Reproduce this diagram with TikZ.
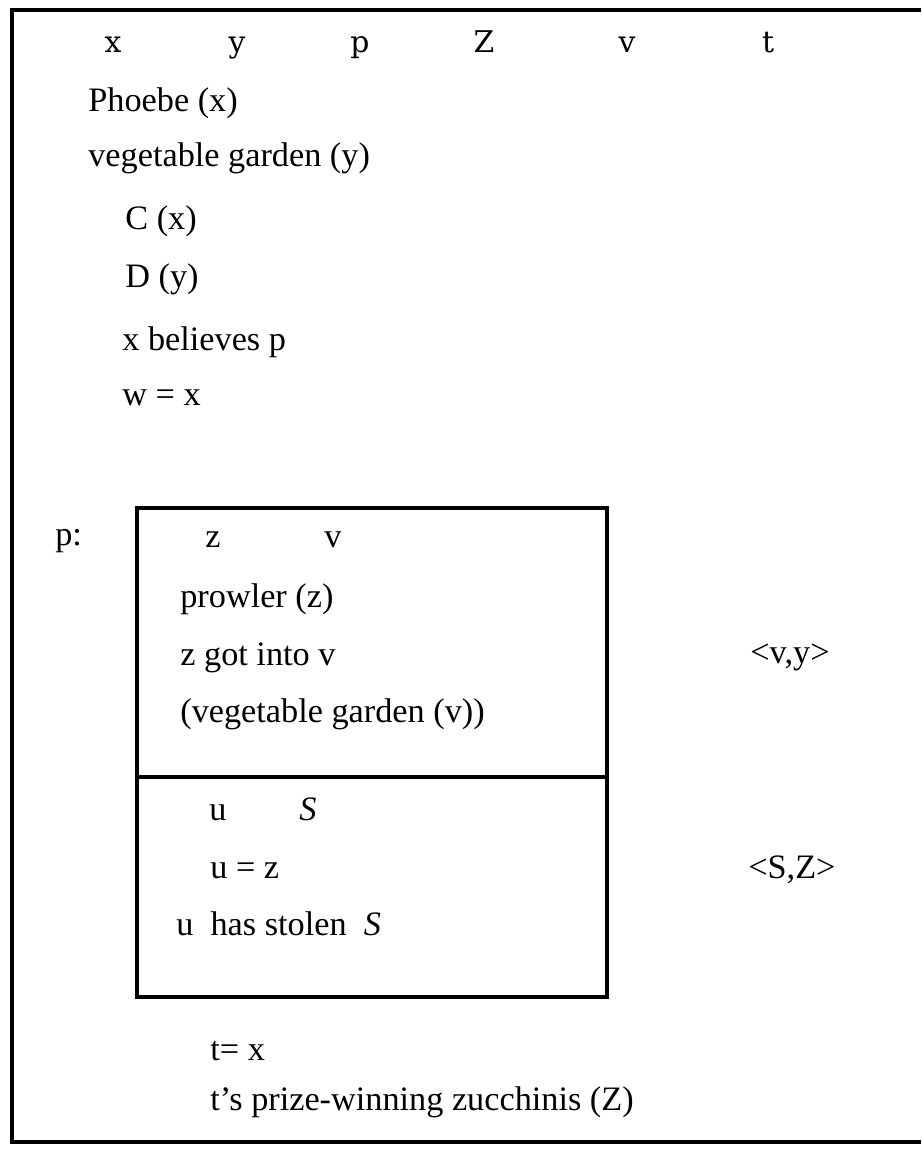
\documentclass[tikz,border=0pt]{standalone}
\usepackage{fontspec}
\setmainfont{Liberation Serif}
\newfontfamily\hdfont{DejaVu Serif}
\begin{document}
\begin{tikzpicture}[x=0.02cm, y=-0.02cm,
                    txt/.style={anchor=base west, inner sep=0pt, font=\fontsize{19.5}{22}\selectfont},
                    dref/.style={anchor=base, inner sep=0pt, font=\hdfont\fontsize{17}{19}\selectfont},
                    iref/.style={anchor=base, inner sep=0pt, font=\fontsize{19.5}{22}\selectfont},
                    frame/.style={line width=2pt}]
\useasboundingbox (0,0) rectangle (921,1152);
% outer box, open on the right
\draw[frame] (921,10) -- (12,10) -- (12,1142) -- (921,1142);
\foreach \n/\xx/\t in {hx/113/x, hy/237/y, hp/360/p, hZ/484/Z, hv/627/v, ht/768/t}
    \node[dref] (\n) at (\xx,53) {\t};
\node[txt] (phoebe) at (88,112) {Phoebe (x)};
\node[txt] (gardeny) at (88,167) {vegetable garden (y)};
\node[txt] (cx) at (125,230) {C (x)};
\node[txt] (dy) at (125,287) {D (y)};
\node[txt] (believes) at (122,350) {x believes p};
\node[txt] (wx) at (122,405) {w = x};
\node[txt] (plab) at (55,545) {p:};
% inner box
\coordinate (pnw) at (137,508);
\coordinate (pse) at (607,997);
\draw[frame] (pnw) rectangle (pse);
\draw[frame] (137,777) -- (607,777);
\node[iref] (iz) at (213,547) {z};
\node[iref] (iv) at (333,547) {v};
\node[txt] (prowler) at (180,607) {prowler (z)};
\node[txt] (gotinto) at (180,665) {z got into v};
\node[txt] (gardenv) at (180,722) {(vegetable garden (v))};
\node[iref] (iu) at (218,820) {u};
\node[iref] (iS) at (308,820) {\textit{S}};
\node[txt] (uz) at (210,878) {u = z};
\node[txt] (stolen) at (176,935) {u\ \ has stolen\ \ \textit{S}};
\node[txt] (vy) at (750,663) {<v,y>};
\node[txt] (SZ) at (748,878) {<S,Z>};
\node[txt] (tx) at (210,1060) {t= x};
\node[txt] (zucchini) at (210,1110) {t’s prize-winning zucchinis (Z)};
\end{tikzpicture}
\end{document}
